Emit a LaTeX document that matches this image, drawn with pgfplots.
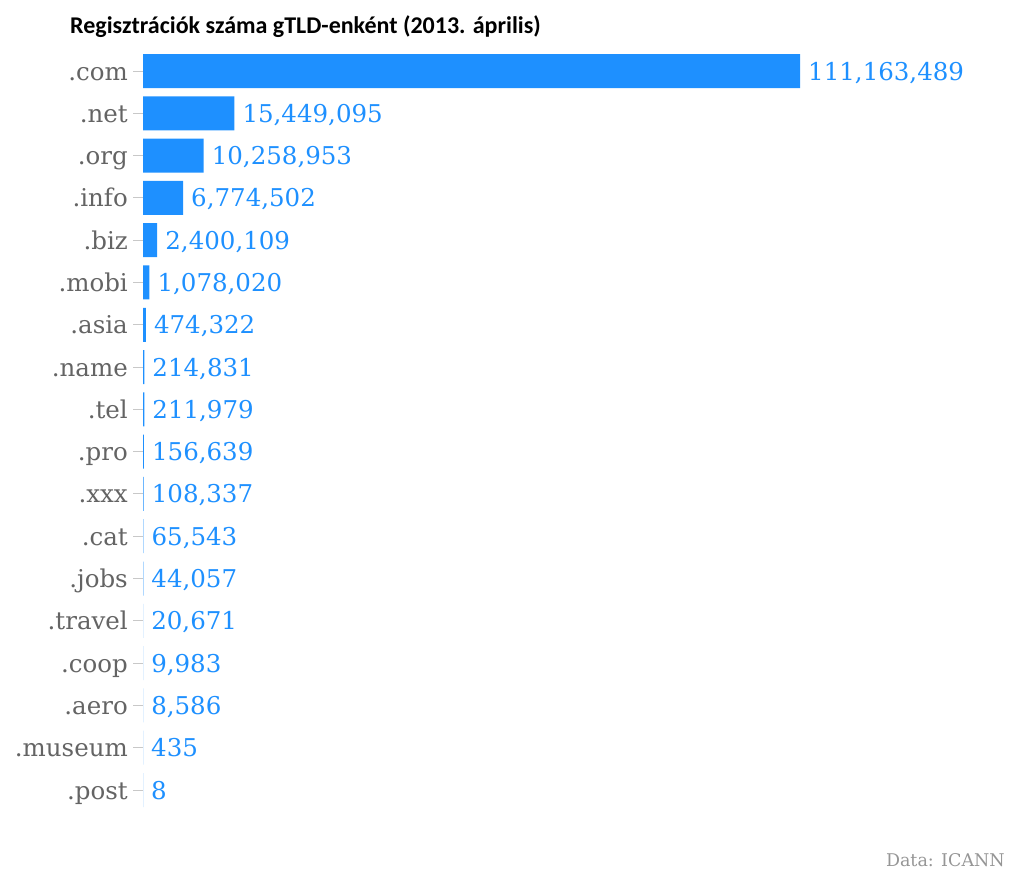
\documentclass[border=0pt]{standalone}
\usepackage{pgfplots}
\pgfplotsset{compat=1.18}
\usepackage{pgfplotstable}
\usepackage{fontspec}
\setmainfont{DejaVu Serif}
\newfontfamily\titlefont{Carlito}
\definecolor{barblue}{RGB}{30,144,255}
\definecolor{labgray}{RGB}{100,100,100}
\definecolor{srcgray}{RGB}{150,150,150}
\definecolor{tickgray}{RGB}{200,200,200}

\pgfplotstableread{
y x label
0 111163489 111,163,489
1 15449095 15,449,095
2 10258953 10,258,953
3 6774502 6,774,502
4 2400109 2,400,109
5 1078020 1,078,020
6 474322 474,322
7 214831 214,831
8 211979 211,979
9 156639 156,639
10 108337 108,337
11 65543 65,543
12 44057 44,057
13 20671 20,671
14 9983 9,983
15 8586 8,586
16 435 435
17 8 8
}\gtld

\begin{document}
\begin{tikzpicture}
\path[use as bounding box] (0,0) rectangle (1024pt,876pt);
\begin{axis}[
    at={(143pt,64.85pt)}, anchor=south west,
    scale only axis,
    width=657pt, height=761.3pt,
    xmin=0, xmax=111163489,
    ymin=-0.5, ymax=17.5,
    y dir=reverse,
    xbar, bar width=34pt,
    clip=false,
    axis line style={draw=none},
    xtick=\empty,
    ytick={0,...,17},
    yticklabels={.com,.net,.org,.info,.biz,.mobi,.asia,.name,.tel,.pro,.xxx,.cat,.jobs,.travel,.coop,.aero,.museum,.post},
    ytick pos=left,
    tick align=outside,
    major tick length=10pt,
    ytick style={draw=tickgray, line width=1pt},
    yticklabel style={font=\fontsize{24.5}{28}\selectfont, text=labgray, inner sep=0pt,
        text height=18pt, text depth=0pt, xshift=-5pt},
    nodes near coords,
    point meta=explicit symbolic,
    every node near coord/.append style={font=\fontsize{24.5}{28}\selectfont, text=barblue, inner sep=0pt,
        text height=18pt, text depth=0pt, anchor=west, xshift=8pt},
]
\addplot[fill=barblue, draw=none] table[x=x, y=y, meta=label] {\gtld};
\end{axis}
\node[anchor=west, inner sep=0pt] at (70pt,849pt) {\titlefont\bfseries\fontsize{24}{28}\selectfont Regisztrációk száma gTLD-enként (2013. április)};
\node[anchor=east, inner sep=0pt, text=srcgray] at (1005pt,16pt) {\fontsize{17.5}{20}\selectfont Data: ICANN};
\end{tikzpicture}
\end{document}
